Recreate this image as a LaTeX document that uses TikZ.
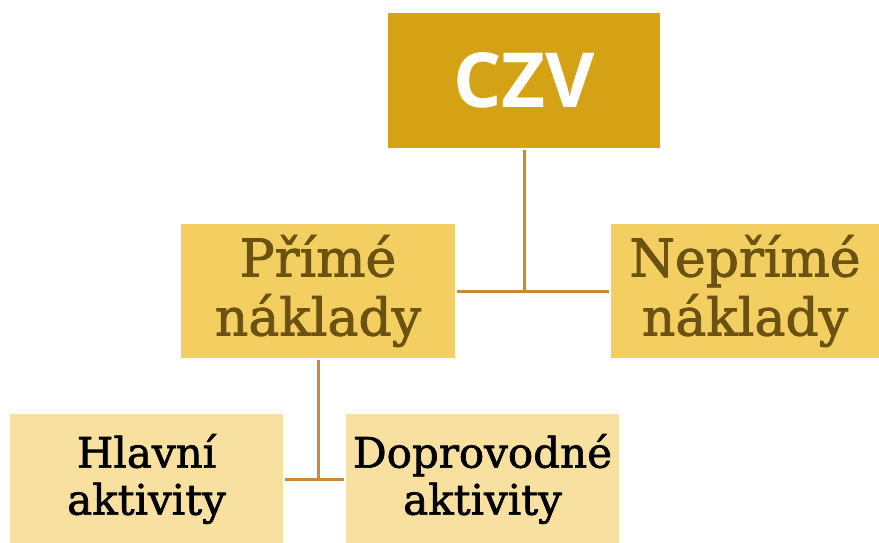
\documentclass[tikz,border=0pt]{standalone}
\usepackage{fontspec}
\setmainfont{DejaVu Serif}
\newfontfamily\slabfont{DejaVu Serif}[BoldFont=DejaVu Serif,BoldFeatures={FakeBold=1.6}]
\newfontfamily\czvfont{Open Sans}
\usepackage{tikz}
\definecolor{gold}{HTML}{D4A214}
\definecolor{midgold}{HTML}{F3CF62}
\definecolor{lightgold}{HTML}{F8E0A0}
\definecolor{darkbrown}{HTML}{6B5210}
\definecolor{linkcol}{HTML}{C98A32}

\begin{document}
\begin{tikzpicture}[line cap=rect,line join=miter,x=1pt,y=-1pt,
	topbox/.style={fill=gold,minimum width=272pt,minimum height=135pt,inner sep=0pt,text=white,font=\czvfont\bfseries\fontsize{76}{80}\selectfont},
	midbox/.style={fill=midgold,minimum width=272pt,minimum height=134pt,inner sep=0pt,align=center,text=darkbrown,font=\slabfont\bfseries\fontsize{52}{59}\selectfont},
	lowbox/.style={fill=lightgold,minimum width=273pt,minimum height=130pt,inner sep=0pt,align=center,text=black,font=\slabfont\bfseries\fontsize{42}{47}\selectfont},
	link/.style={draw=linkcol,line width=3pt}]
	\useasboundingbox (0,0) rectangle (879,543);
	\node[topbox] (czv) at (524,80.5) {CZV};
	\node[midbox,minimum width=274pt] (prime) at (318,291) {Přímé\\náklady};
	\node[midbox,minimum width=268pt] (neprime) at (745,291) {Nepřímé\\náklady};
	\node[lowbox] (hlavni) at (146.5,479) {Hlavní\\aktivity};
	\node[lowbox] (doprov) at (482.5,479) {Doprovodné\\aktivity};
	% spojnice
	\draw[link] ([xshift=3pt]prime.east) -- ([xshift=-3pt]neprime.west);
	\draw[link] ([yshift=-3pt]czv.south) -- (czv.south |- prime.east);
	\draw[link] ([xshift=3pt]hlavni.east) -- ([xshift=-3pt]doprov.west);
	\draw[link] ([yshift=-3pt]prime.south) -- (prime.south |- hlavni.east);
\end{tikzpicture}
\end{document}
